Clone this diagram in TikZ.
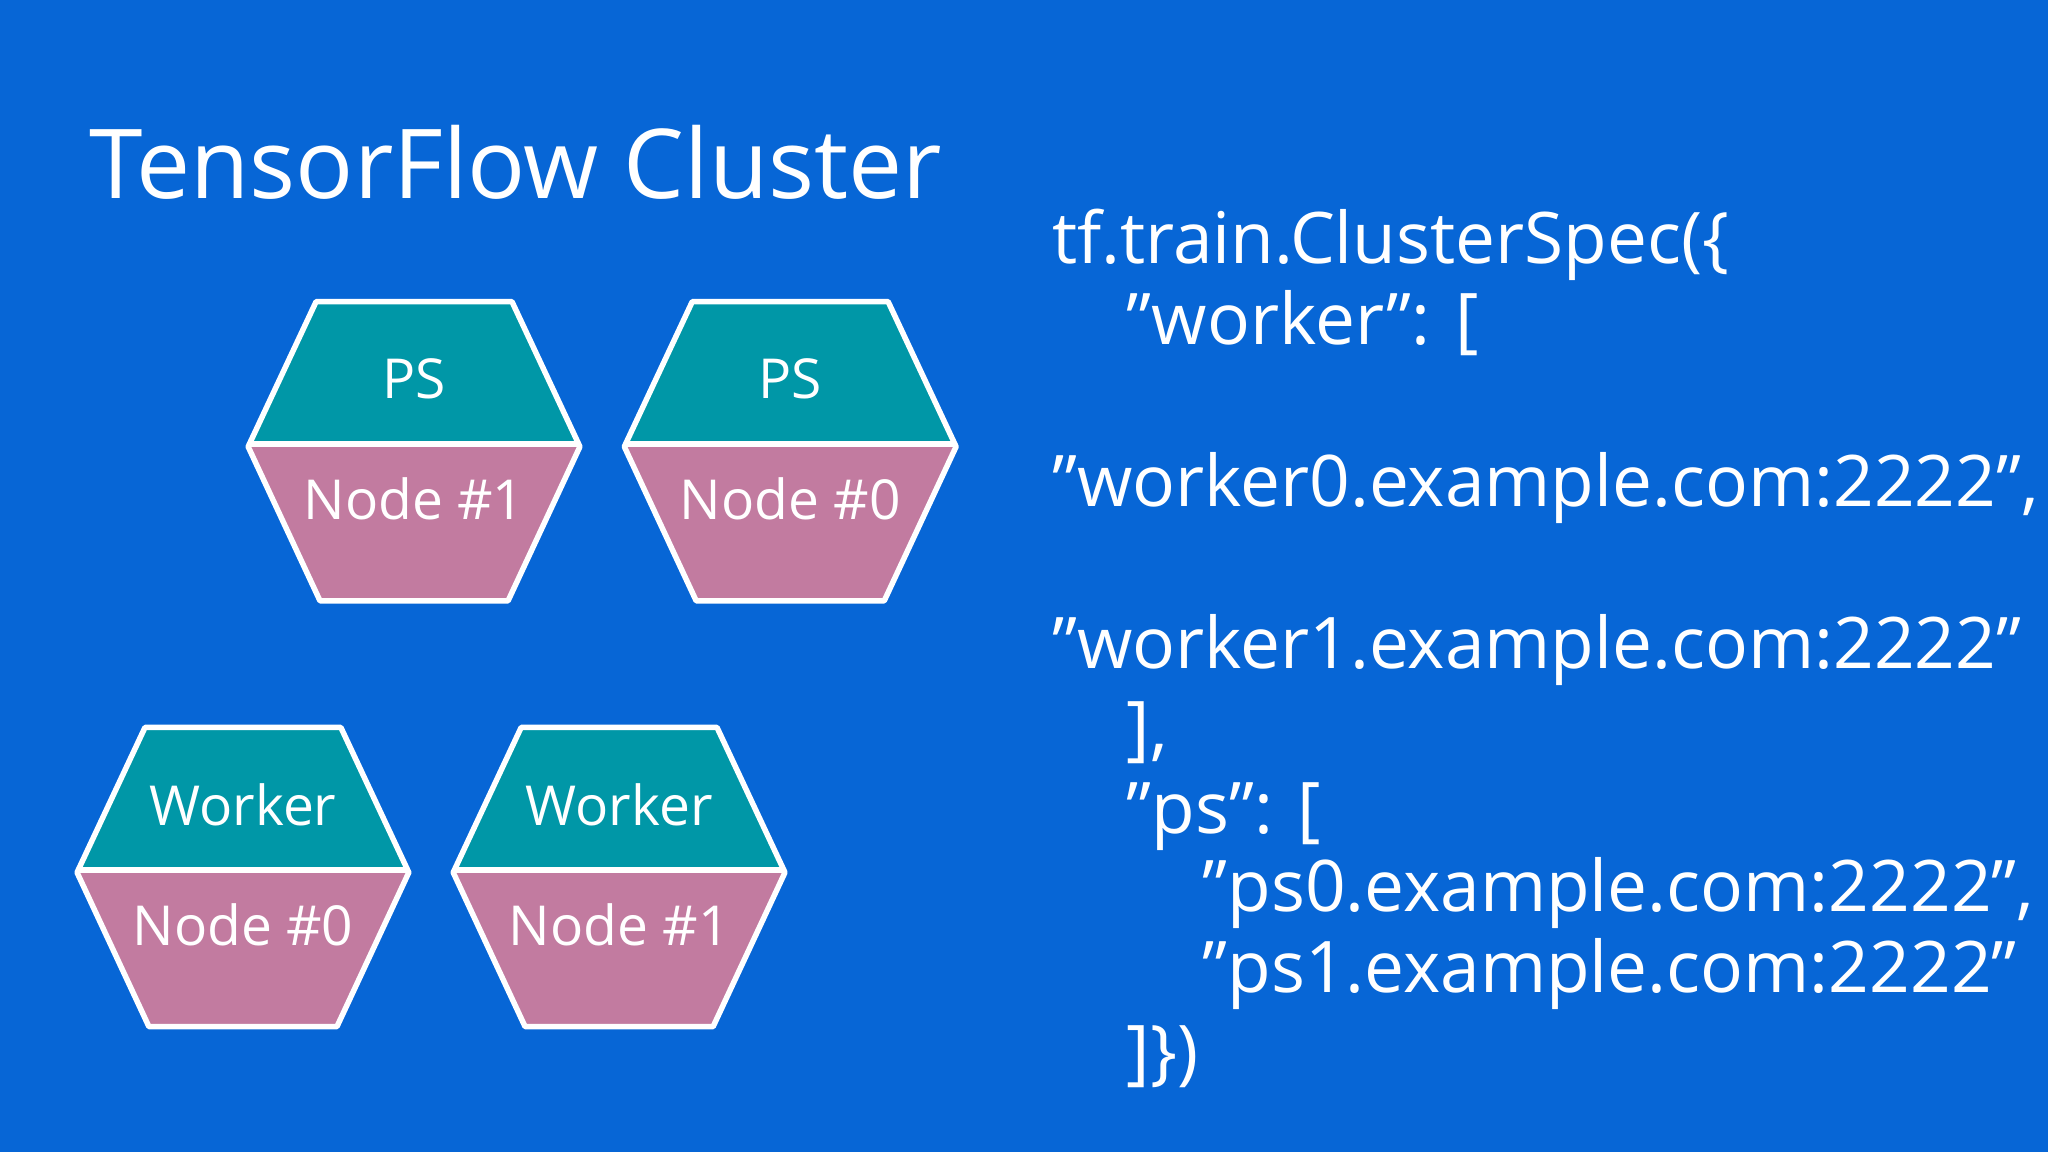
\documentclass[tikz,border=0pt]{standalone}
\usepackage{fontspec}
\setmainfont{Open Sans}
\usetikzlibrary{positioning}
\definecolor{bgblue}{HTML}{0766D6}
\definecolor{psteal}{HTML}{0097A7}
\definecolor{nodepink}{HTML}{C27BA0}
\tikzset{
  code/.style={anchor=base west, text=white, font=\fontsize{15.5}{18}\selectfont, inner sep=0pt},
  hexlabel/.style={text=white, font=\fontsize{12}{14}\selectfont},
  hexline/.style={draw=white, line width=1.2pt, line join=round},
}
% \hexagon{name}{cx}{cy}{top label}{bottom label}
\newcommand{\hexagon}[5]{%
  \fill[psteal] (#2-75,#3+111) -- (#2+75,#3+111) -- (#2+127,#3) -- (#2-127,#3) -- cycle;
  \fill[nodepink] (#2-127,#3) -- (#2+127,#3) -- (#2+72,#3-118) -- (#2-72,#3-118) -- cycle;
  \draw[hexline] (#2-75,#3+111) -- (#2+75,#3+111) -- (#2+127,#3) -- (#2+72,#3-118)
    -- (#2-72,#3-118) -- (#2-127,#3) -- cycle;
  \draw[hexline] (#2-125,#3+2) -- (#2+125,#3+2);
  \node[hexlabel] (#1top) at (#2,#3+52) {#4};
  \node[hexlabel] (#1bot) at (#2,#3-40) {#5};
}
\begin{document}
\begin{tikzpicture}[x=0.01cm,y=0.01cm]
\fill[bgblue] (0,0) rectangle (1568,882);
\useasboundingbox (0,0) rectangle (1568,882);
\node[anchor=base west, text=white, inner sep=0pt, font=\fontsize{21}{25}\selectfont]
  (title) at (68,730) {TensorFlow Cluster};
% hexagons
\hexagon{psa}{317}{540}{PS}{Node \#1}
\hexagon{psb}{605}{540}{PS}{Node \#0}
\hexagon{wka}{186}{214}{Worker}{Node \#0}
\hexagon{wkb}{474}{214}{Worker}{Node \#1}
% cluster spec
\node[code] (l1) at (805,680) {tf.train.ClusterSpec(\{};
\node[code] (l2) at (862,618) {"worker": [};
\node[code] (l3) at (805,494) {"worker0.example.com:2222",};
\node[code] (l4) at (805,370) {"worker1.example.com:2222"};
\node[code] (l5) at (862,306) {],};
\node[code] (l6) at (862,244) {"ps": [};
\node[code] (l7) at (920,184) {"ps0.example.com:2222",};
\node[code] (l8) at (920,122) {"ps1.example.com:2222"};
\node[code] (l9) at (862,58) {]\})};
\end{tikzpicture}
\end{document}
